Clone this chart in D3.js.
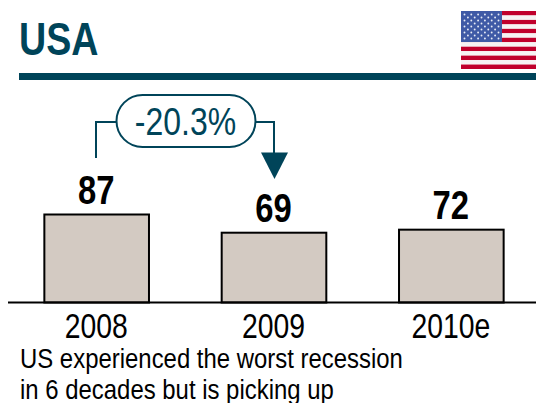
<!DOCTYPE html>
<html>
<head>
<meta charset="utf-8">
<script src="https://cdn.jsdelivr.net/npm/d3@7/dist/d3.min.js"></script>
<style>
html,body{margin:0;padding:0;background:#fff;overflow:hidden}
text{font-family:"Liberation Sans",Arial,sans-serif}
</style>
</head>
<body>
<svg id="chart" width="536" height="403"></svg>
<script>
const years = ["2008", "2009", "2010e"];
const values = [87, 69, 72];
const valueLabels = ["87", "69", "72"];
const title = "USA";
const changeLabel = "-20.3%";
const captionLines = ["US experienced the worst recession", "in 6 decades but is picking up"];

const teal = "#004459";
const barFill = "#d3cac2";
const ink = "#000";

const svg = d3.select("#chart");

// Condensed type: Liberation Sans squeezed horizontally about its anchor point
const at = (px, py, sx) => `translate(${px},${py}) scale(${sx},1)`;

// Header
svg.append("text").attr("transform", at(19, 54.5, 0.8))
  .attr("font-size", 47).attr("font-weight", 700).attr("fill", teal).text(title);
svg.append("rect").attr("x", 19).attr("y", 73).attr("width", 517).attr("height", 7).attr("fill", teal);

// Flag in the header
const flag = svg.append("g").attr("transform", "translate(461,11)");
const stripeY = d3.scaleBand().domain(d3.range(13)).range([0, 58]);
flag.selectAll("rect.stripe").data(d3.range(13)).join("rect")
  .attr("class", "stripe")
  .attr("x", 0).attr("width", 75)
  .attr("y", d => stripeY(d))
  .attr("height", stripeY.bandwidth())
  .attr("fill", d => d % 2 ? "#f6f2f3" : "#c0002c");
flag.append("rect").attr("width", 41).attr("height", 31).attr("fill", "#3f5aa6");
const starCells = d3.cross(d3.range(9), d3.range(11)).filter(([r, c]) => (r + c) % 2 === 0);
flag.selectAll("circle").data(starCells).join("circle")
  .attr("cx", ([, c]) => 3.5 + c * 3.4)
  .attr("cy", ([r]) => 3.5 + r * 3)
  .attr("r", 0.95)
  .attr("fill", "#e8ecf6");

// Bars
const x = d3.scaleBand().domain(years).range([8, 540]).paddingInner(0.41).paddingOuter(0.205);
const y = d3.scaleLinear().domain([0, 87]).range([302.5, 214.5]);

svg.selectAll("rect.bar").data(years).join("rect")
  .attr("class", "bar")
  .attr("x", d => x(d))
  .attr("y", (d, i) => y(values[i]))
  .attr("width", x.bandwidth())
  .attr("height", (d, i) => y(0) - y(values[i]))
  .attr("fill", barFill).attr("stroke", ink).attr("stroke-width", 2);

svg.append("line").attr("x1", 8).attr("x2", 536).attr("y1", y(0)).attr("y2", y(0))
  .attr("stroke", ink).attr("stroke-width", 2);

const center = d => x(d) + x.bandwidth() / 2;

svg.selectAll("text.value").data(years).join("text")
  .attr("class", "value")
  .attr("transform", (d, i) => at(center(d) - 0.5, y(values[i]) - 11, 0.8))
  .attr("text-anchor", "middle")
  .attr("font-size", 41).attr("font-weight", 700).attr("fill", ink)
  .text((d, i) => valueLabels[i]);

svg.selectAll("text.year").data(years).join("text")
  .attr("class", "year")
  .attr("transform", d => at(center(d) - 0.5, 338, 0.81))
  .attr("text-anchor", "middle")
  .attr("font-size", 35).attr("fill", ink)
  .text(d => d);

// Change callout between the first two bars
const callY = 122;
const bracket = d3.path();
bracket.moveTo(96, 158);
bracket.lineTo(96, callY);
bracket.lineTo(274, callY);
bracket.lineTo(274, 160);
svg.append("path").attr("d", bracket.toString())
  .attr("fill", "none").attr("stroke", teal).attr("stroke-width", 2);
svg.append("path").attr("d", "M261,152.5H288L274.5,179Z").attr("fill", teal);
svg.append("rect").attr("x", 116.5).attr("y", 95).attr("width", 139).attr("height", 52)
  .attr("rx", 26).attr("fill", "#fff").attr("stroke", teal).attr("stroke-width", 2);
svg.append("text").attr("transform", at(185.5, 135, 0.82))
  .attr("text-anchor", "middle").attr("font-size", 39).attr("fill", teal).text(changeLabel);

// Caption
svg.selectAll("text.caption").data(captionLines).join("text")
  .attr("class", "caption")
  .attr("transform", (d, i) => at(20, 368 + i * 31, 0.84))
  .attr("font-size", 28.5).attr("fill", ink)
  .text(d => d);
</script>
</body>
</html>
